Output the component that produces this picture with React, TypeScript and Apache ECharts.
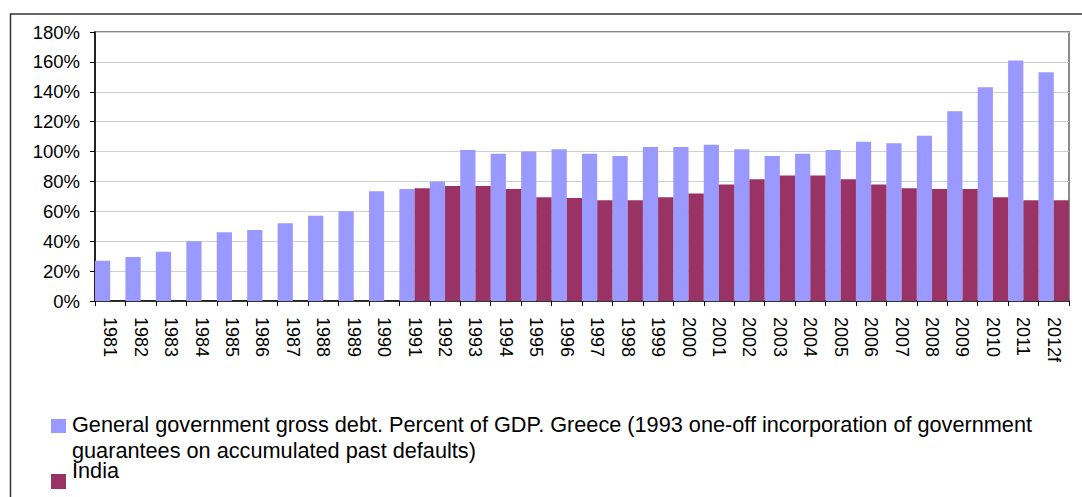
import React, { useEffect, useRef } from "react";
import * as echarts from "echarts";

const years = [
  "1981", "1982", "1983", "1984", "1985", "1986", "1987", "1988", "1989", "1990",
  "1991", "1992", "1993", "1994", "1995", "1996", "1997", "1998", "1999", "2000",
  "2001", "2002", "2003", "2004", "2005", "2006", "2007", "2008", "2009", "2010",
  "2011", "2012f",
];

const greeceName =
  "General government gross debt. Percent of GDP. Greece (1993 one-off incorporation of government guarantees on accumulated past defaults)";
const indiaName = "India";

const greece = [
  27, 29.5, 33, 40, 46, 47.5, 52, 57, 60, 73.5,
  75, 80, 101, 98.5, 100, 101.5, 98.5, 97, 103, 103,
  104.5, 101.5, 97, 98.5, 101, 106.5, 105.5, 110.5, 127, 143,
  161, 153,
];

const india = [
  "-", "-", "-", "-", "-", "-", "-", "-", "-", "-",
  75.5, 77, 77, 75, 69.5, 69, 67.5, 67.5, 69.5, 72,
  78, 81.5, 84, 84, 81.5, 78, 75.5, 75, 75, 69.5,
  67.5, 67.5,
];

const yTicks = { min: 0, max: 180, interval: 20 };

const colors = { greece: "#9999FF", india: "#993366" };

const FONT = "Liberation Sans, Arial, sans-serif";

export default function App() {
  const ref = useRef<HTMLDivElement>(null);

  useEffect(() => {
    document.body.style.margin = "0";
    if (!ref.current) return;
    const chart = echarts.init(ref.current, null, { renderer: "svg" });

    const words = greeceName.split(" ");
    const breakAt = words.indexOf("guarantees");
    const line1 = words.slice(0, breakAt).join(" ");
    const line2 = words.slice(breakAt).join(" ");

    const legendFont = `21.7px ${FONT}`;

    chart.setOption({
      animation: false,
      backgroundColor: "#ffffff",
      textStyle: { fontFamily: FONT },
      grid: {
        left: 95,
        right: 13,
        top: 32,
        bottom: 196,
        show: true,
        borderColor: "#8a8a8a",
        borderWidth: 2,
        backgroundColor: "transparent",
      },
      xAxis: {
        type: "category",
        data: years,
        axisLine: { show: true, lineStyle: { color: "#000", width: 1.5 } },
        axisTick: { show: true, length: 5, interval: 0, lineStyle: { color: "#000" } },
        axisLabel: {
          interval: 0,
          rotate: -90,
          margin: 16,
          color: "#000",
          fontSize: 18,
          fontFamily: FONT,
        },
        splitLine: { show: false },
      },
      yAxis: {
        type: "value",
        min: yTicks.min,
        max: yTicks.max,
        interval: yTicks.interval,
        axisLine: { show: true, lineStyle: { color: "#000", width: 1.5 } },
        axisTick: { show: true, length: 5, lineStyle: { color: "#000" } },
        axisLabel: {
          formatter: "{value}%",
          margin: 15,
          color: "#000",
          fontSize: 18.5,
          fontFamily: FONT,
        },
        splitLine: { show: true, lineStyle: { color: "#cfcfcf", width: 1 } },
      },
      series: [
        {
          name: greeceName,
          type: "bar",
          data: greece,
          itemStyle: { color: colors.greece },
          barGap: "0%",
          barCategoryGap: "0%",
        },
        {
          name: indiaName,
          type: "bar",
          data: india,
          itemStyle: { color: colors.india },
          barGap: "0%",
          barCategoryGap: "0%",
        },
      ],
      graphic: [
        {
          type: "rect",
          shape: { x: 10.5, y: 14, width: 1200, height: 600 },
          style: { fill: "none", stroke: "#333", lineWidth: 1.5 },
          silent: true,
        },
        {
          type: "rect",
          shape: { x: 51, y: 419, width: 15, height: 14 },
          style: { fill: colors.greece },
        },
        {
          type: "text",
          x: 72,
          y: 424.2,
          style: {
            text: line1,
            font: legendFont,
            fill: "#000",
            verticalAlign: "middle",
            align: "left",
          },
        },
        {
          type: "text",
          x: 72,
          y: 450.8,
          style: {
            text: line2,
            font: legendFont,
            fill: "#000",
            verticalAlign: "middle",
            align: "left",
          },
        },
        {
          type: "rect",
          shape: { x: 51, y: 474, width: 15, height: 15 },
          style: { fill: colors.india },
        },
        {
          type: "text",
          x: 72,
          y: 470.4,
          style: {
            text: indiaName,
            font: legendFont,
            fill: "#000",
            verticalAlign: "middle",
            align: "left",
          },
        },
      ],
    });

    return () => chart.dispose();
  }, []);

  return <div ref={ref} style={{ width: 1082, height: 497 }} />;
}
